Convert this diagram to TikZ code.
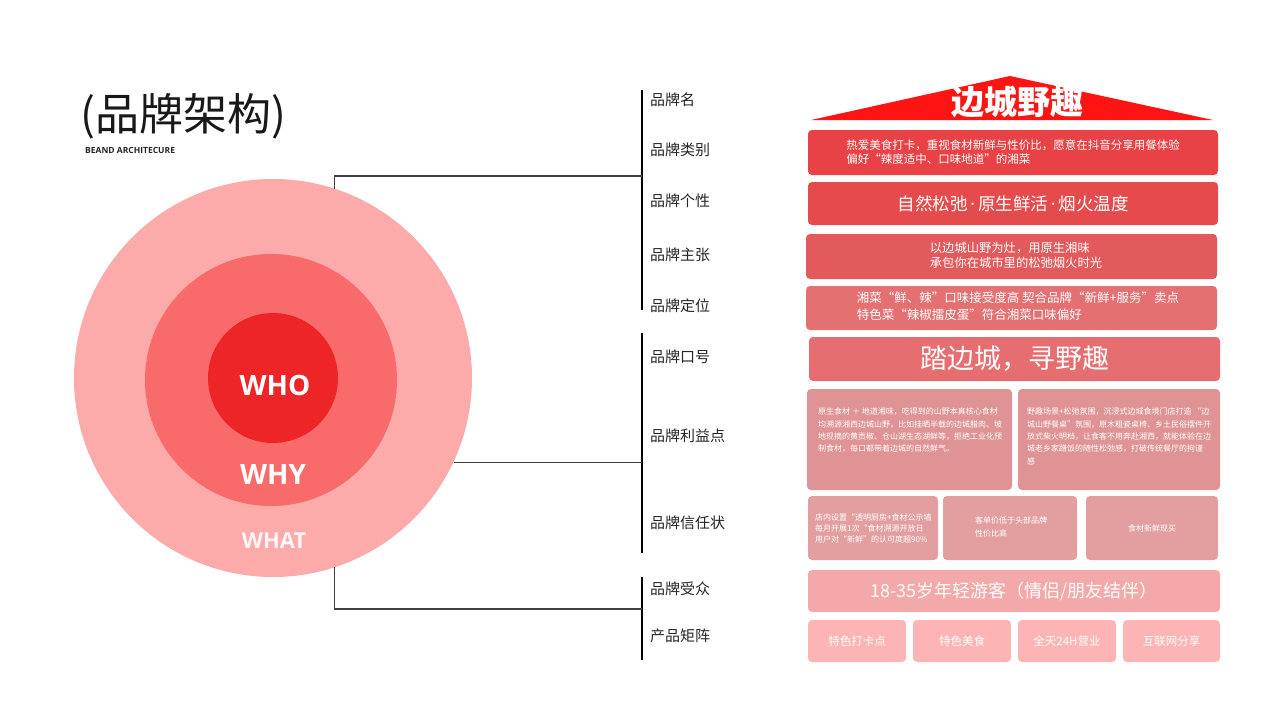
\documentclass[tikz,border=0pt]{standalone}
\usepackage{fontspec}
\setmainfont{Noto Sans CJK SC}
\newfontfamily\latf{Open Sans}
\newcommand\fs[2]{\fontsize{#1}{#2}\selectfont}
\newcommand\mdot{{\latf\,·\,}}
\definecolor{cOut}{HTML}{FDAAAA}
\definecolor{cMid}{HTML}{F96B6B}
\definecolor{cIn}{HTML}{EE2527}
\definecolor{cRoof}{HTML}{FF1414}
\definecolor{cR1}{HTML}{E94246}
\definecolor{cR2}{HTML}{E54B4C}
\definecolor{cR3}{HTML}{E35A5D}
\definecolor{cR4}{HTML}{E57072}
\definecolor{cR5}{HTML}{E66E70}
\definecolor{cR6}{HTML}{E09394}
\definecolor{cR7}{HTML}{E39FA0}
\definecolor{cR8}{HTML}{F3A9A9}
\definecolor{cR9}{HTML}{FDB4B4}
\begin{document}
\begin{tikzpicture}[x=1pt,y=-1pt,
  box/.style={rounded corners=4pt, inner sep=0pt, text=white, align=center},
  lbl/.style={anchor=west, inner sep=0pt, font={\fs{15}{18}}, text=black!85},
  ring/.style={circle, inner sep=0pt, draw=none},
  ringtxt/.style={text=white, font={\latf\bfseries\fs{28}{30}}},
  brk/.style={line width=1.8pt, black},
  conn/.style={line width=1.1pt, black!75},
  small/.style={text=white, align=left, inner sep=0pt, font={\fs{8}{12.3}}}
]
\fill[white] (0,0) rectangle (1280,720);
\useasboundingbox (0,0) rectangle (1280,720);

% title
\node[anchor=west, inner sep=0pt, font={\fs{44}{48}}, text=black!90] (title) at (80,116) {(品牌架构)};
\node[anchor=west, inner sep=0pt, font={\latf\bfseries\fs{8.5}{10}}, text=black!85] (subtitle) at (85,150) {BEAND ARCHITECURE};

% circles
\node[ring, fill=cOut, minimum size=398pt] (what) at (273,378) {};
\node[ring, fill=cMid, minimum size=252pt] (why) at (271,380) {};
\node[ring, fill=cIn, minimum size=130pt] (who) at (273,378) {};
\node[ringtxt] (whot) at (275,385) {WHO};
\node[ringtxt] (whyt) at (273,475) {WHY};
\node[text=white, opacity=0.9, font={\latf\bfseries\fs{22}{24}}] (whatt) at (274,541) {WHAT};

% brackets
\coordinate (b1t) at (642,90);  \coordinate (b1b) at (642,310);
\coordinate (b2t) at (642,333); \coordinate (b2b) at (642,553);
\coordinate (b3t) at (642,577); \coordinate (b3b) at (642,660);
\coordinate (j1) at (642,176);
\coordinate (j2) at (642,465);
\coordinate (j3) at (642,609);
\draw[brk] (b1t) -- (b1b);
\draw[brk] (b2t) -- (b2b);
\draw[brk] (b3t) -- (b3b);
\draw[conn] (what.72.5) |- (j1);
\draw[conn] (what.-25.9) -- (what.-25.9 -| j2);
\draw[conn] (what.-72.5) |- (j3);

% labels
\node[lbl] (l1) at (650,100) {品牌名};
\node[lbl] (l2) at (650,150) {品牌类别};
\node[lbl] (l3) at (650,201) {品牌个性};
\node[lbl] (l4) at (650,255) {品牌主张};
\node[lbl] (l5) at (650,306) {品牌定位};
\node[lbl] (l6) at (650,357) {品牌口号};
\node[lbl] (l7) at (650,436) {品牌利益点};
\node[lbl] (l8) at (650,523) {品牌信任状};
\node[lbl] (l9) at (650,589) {品牌受众};
\node[lbl] (l10) at (650,636) {产品矩阵};

% roof
\fill[cRoof] (811,120) -- (1010,76) -- (1213,120) -- cycle;
\node[text=white, font={\bfseries\fs{33}{36}}] (name) at (1017,102) {边城野趣};

% rows
\node[box, fill=cR1, minimum width=410pt, minimum height=45pt] (r1) at (1013,152.5) {};
\node[text=white, align=left, inner sep=0pt, font={\fs{11.5}{13.5}}] (r1t) at (1013,152) {热爱美食打卡，重视食材新鲜与性价比，愿意在抖音分享用餐体验\\偏好“辣度适中、口味地道”的湘菜};

\node[box, fill=cR2, minimum width=410pt, minimum height=43pt, font={\fs{17.5}{20}}] (r2) at (1013,203.5) {自然松弛\mdot 原生鲜活\mdot 烟火温度};

\node[box, fill=cR3, minimum width=411pt, minimum height=45pt] (r3) at (1011.5,256.5) {};
\node[text=white, align=left, inner sep=0pt, font={\fs{12.3}{15}}] (r3t) at (1016,255.5) {以边城山野为灶，用原生湘味\\承包你在城市里的松弛烟火时光};

\node[box, fill=cR4, minimum width=411pt, minimum height=44pt] (r4) at (1011.5,308) {};
\node[text=white, align=left, inner sep=0pt, font={\fs{12.5}{16.5}}] (r4t) at (1018,306.5) {湘菜“鲜、辣”口味接受度高 契合品牌“新鲜+服务”卖点\\特色菜“辣椒擂皮蛋”符合湘菜口味偏好};

\node[box, fill=cR5, minimum width=411pt, minimum height=44pt, font={\fs{27}{30}}] (r5) at (1014.5,359) {踏边城，寻野趣};

\node[box, fill=cR6, minimum width=205pt, minimum height=101pt] (r6a) at (909.5,439.5) {};
\node[box, fill=cR6, minimum width=202pt, minimum height=101pt] (r6b) at (1119,439.5) {};
\node[small, anchor=north west] (r6at) at (818,408) {原生食材 ＋ 地道湘味，吃得到的山野本真核心食材\\均溯源湘西边城山野，比如挂晒半载的边城腊肉、坡\\地现摘的黄贡椒、仓山湖生态湖鲜等，拒绝工业化预\\制食材，每口都带着边城的自然鲜气。};
\node[small, anchor=north west] (r6bt) at (1027,408) {野趣场景+松弛氛围，沉浸式边城食境门店打造 “边\\城山野餐桌”氛围，原木粗瓷桌椅、乡土民俗摆件开\\放式柴火明档，让食客不用奔赴湘西，就能体验在边\\城老乡家蹭饭的随性松弛感，打破传统餐厅的拘谨\\感};

\node[box, fill=cR7, minimum width=130pt, minimum height=64pt] (r7a) at (873,528) {};
\node[box, fill=cR7, minimum width=134pt, minimum height=64pt] (r7b) at (1010,528) {};
\node[box, fill=cR7, minimum width=132pt, minimum height=64pt, font={\fs{8}{10}}] (r7c) at (1152,528) {食材新鲜现买};
\node[small, anchor=west, font={\fs{8}{11}}] (r7at) at (815,528) {店内设置“透明厨房+食材公示墙\\每月开展1次“食材溯源开放日\\用户对“新鲜”的认可度超90\%};
\node[small, anchor=west, font={\fs{8}{13}}] (r7bt) at (975,526.5) {客单价低于头部品牌\\性价比高};

\node[box, fill=cR8, minimum width=412pt, minimum height=42pt, font={\fs{18}{20}}] (r8) at (1014,591) {18-35岁年轻游客（情侣/朋友结伴）};

\node[box, fill=cR9, minimum width=98pt, minimum height=42pt, font={\fs{11.5}{13}}] (r9a) at (857,641) {特色打卡点};
\node[box, fill=cR9, minimum width=98pt, minimum height=42pt, font={\fs{11.5}{13}}] (r9b) at (962,641) {特色美食};
\node[box, fill=cR9, minimum width=98pt, minimum height=42pt, font={\fs{11.5}{13}}] (r9c) at (1067,641) {全天24H营业};
\node[box, fill=cR9, minimum width=97pt, minimum height=42pt, font={\fs{11.5}{13}}] (r9d) at (1171.5,641) {互联网分享};
\end{tikzpicture}
\end{document}
